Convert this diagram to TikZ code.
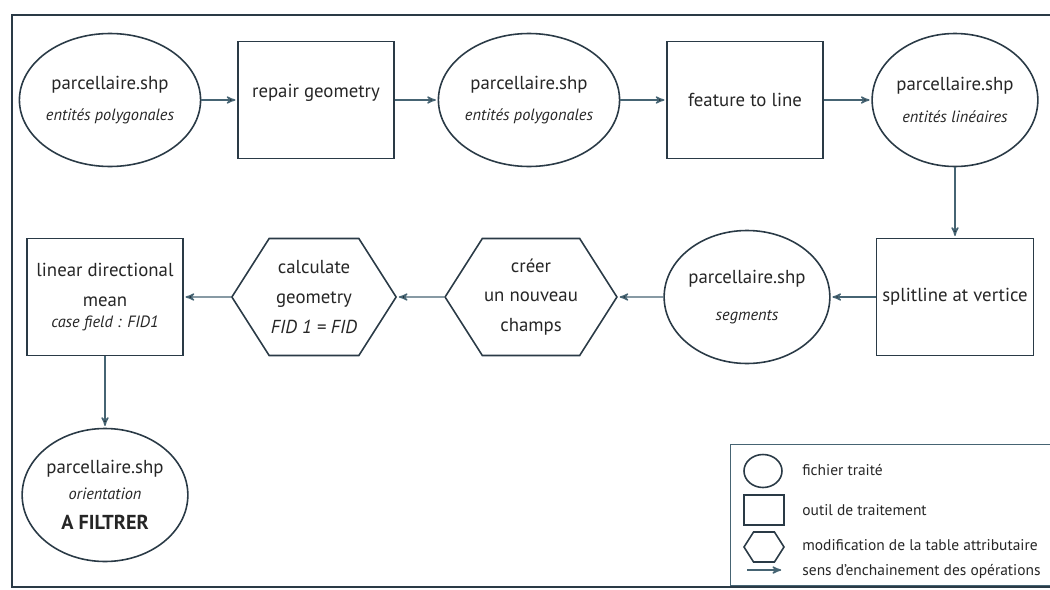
\documentclass[tikz,border=0pt]{standalone}
\usepackage{fontspec}
\setmainfont{PT Sans}
\usetikzlibrary{arrows,shapes.geometric,shapes.symbols,positioning}
\definecolor{trait}{RGB}{42,58,70}
\definecolor{fil}{RGB}{70,100,115}
\newcommand{\sous}{\fontsize{9.3}{11}\selectfont\itshape}

\begin{document}
\begin{tikzpicture}[->,>=stealth',node distance=4.2cm,semithick,
  font=\fontsize{10.7}{17}\selectfont,text=black!85]
\tikzstyle{fichier}=[ellipse,draw=trait,line width=0.9pt,minimum width=2.9cm,minimum height=2.66cm,inner sep=0pt,align=center]
\tikzstyle{outil}=[rectangle,draw=trait,line width=0.9pt,minimum width=3.12cm,minimum height=2.34cm,align=center]
\tikzstyle{modif}=[signal,signal to=east and west,signal pointer angle=115,draw=trait,line width=0.9pt,minimum width=3.2cm,minimum height=2.34cm,inner sep=1pt,align=center]
\tikzstyle{fleche}=[->,draw=fil,line width=0.8pt,shorten >=1pt]

  \useasboundingbox (-2.2,2.0) rectangle (18.8,-9.8);
  \draw[-,trait,line width=1.3pt] (-1.96,1.7) rectangle (19.2,-9.74);

  % premiere ligne
  \node[fichier] (e1)                                     {parcellaire.shp\\[1pt]{\sous entités polygonales}};
  \node[outil]   (r1) [right of=e1,node distance=4.12cm]  {repair geometry\\[-7pt]};
  \node[fichier] (e2) [right of=r1,node distance=4.26cm]  {parcellaire.shp\\[1pt]{\sous entités polygonales}};
  \node[outil]   (r2) [right of=e2,node distance=4.32cm]  {feature to line};
  \node[fichier] (e3) [right of=r2]                       {parcellaire.shp\\[1pt]{\sous entités linéaires}};

  % deuxieme ligne
  \node[outil]   (r3) [below of=e3,node distance=3.94cm]  {splitline at vertice};
  \node[fichier] (e4) [left of=r3,node distance=4.16cm]   {parcellaire.shp\\[4pt]{\sous segments}};
  \node[modif]   (h1) [left of=e4,node distance=4.32cm]   {créer\\un nouveau\\champs};
  \node[modif,minimum width=2.95cm] (h2) [left of=h1,node distance=4.34cm] {calculate\\geometry\\{\itshape FID 1 = FID}};
  \node[outil]   (r4) [left of=h2,node distance=4.18cm]   {linear directional\\mean\\[-5pt]{\sous case field : FID1}};
  \node[fichier] (e5) [below of=r4,node distance=3.96cm]  {parcellaire.shp\\[-2pt]{\sous orientation}\\[0pt]{\fontsize{11.5}{14}\selectfont\bfseries A FILTRER}};

  \path[fleche] (e1) edge (r1)
                (r1) edge (e2)
                (e2) edge (r2)
                (r2) edge (e3)
                (e3) edge (r3)
                (r3) edge (e4)
                (e4) edge (h1)
                (h1) edge (h2)
                (h2) edge (r4)
                (r4) edge (e5);

  % legende
  \draw[-,fil,line width=0.4pt] (12.4,-6.88) rectangle (19.2,-9.7);
  \node[fichier,minimum width=0.76cm,minimum height=0.66cm] (le) at (13.06,-7.42) {};
  \node[outil,minimum width=0.8cm,minimum height=0.6cm]     (lr) at (13.08,-8.2) {};
  \node[modif,minimum width=0.8cm,minimum height=0.6cm,inner sep=0pt] (lh) at (13.08,-8.94) {};
  \coordinate (la) at (12.74,-9.4);
  \coordinate (lb) at (13.46,-9.4);
  \draw[fleche] (la) -- (lb);
  \begin{scope}[every node/.style={anchor=west,font=\fontsize{8.8}{11}\selectfont}]
    \node (te) at (13.72,-7.4)  {fichier traité};
    \node (tr) at (13.72,-8.2)  {outil de traitement};
    \node (th) at (13.72,-8.9)  {modification de la table attributaire};
    \node (ta) at (13.72,-9.42) {sens d'enchainement des opérations};
  \end{scope}
\end{tikzpicture}
\end{document}
